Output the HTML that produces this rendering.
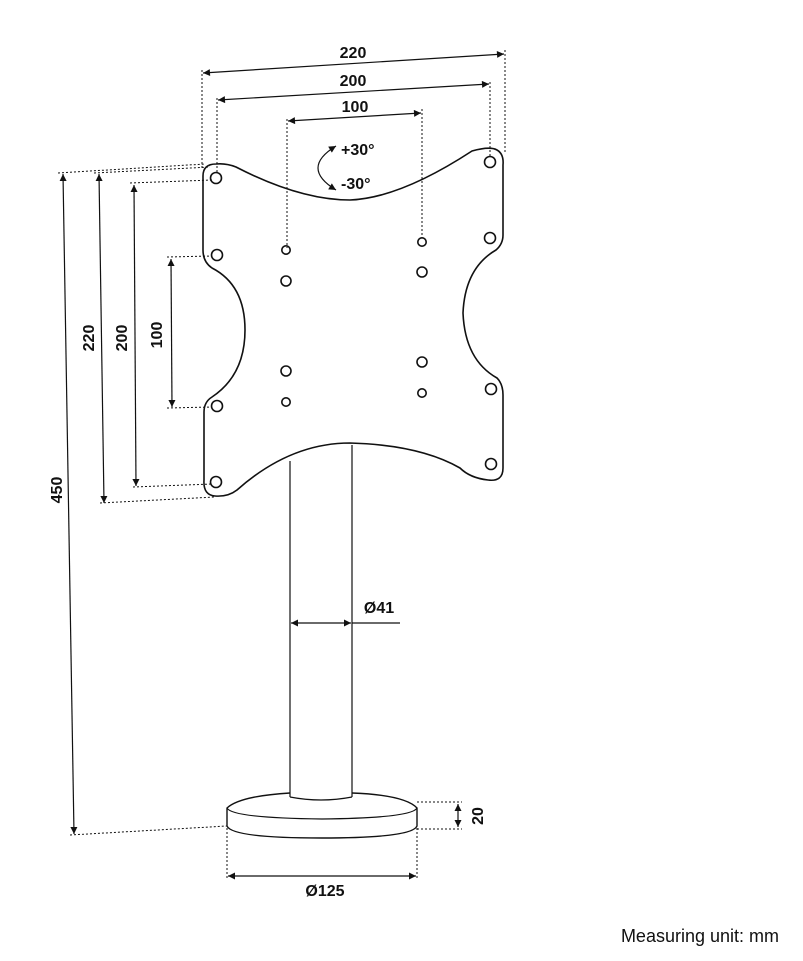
<!DOCTYPE html>
<html><head><meta charset="utf-8"><style>
html,body{margin:0;padding:0;background:#fff;}
svg{display:block;}
text{font-family:"Liberation Sans",sans-serif;fill:#111;}
</style></head><body>
<svg width="803" height="961" viewBox="0 0 803 961" xmlns="http://www.w3.org/2000/svg">
<defs>
<marker id="a" viewBox="0 0 10 10" refX="10" refY="5" markerWidth="9" markerHeight="7" orient="auto-start-reverse" markerUnits="userSpaceOnUse"><path d="M0,0 L10,5 L0,10 z" fill="#111"/></marker>
</defs>
<g stroke="#111" stroke-width="1" stroke-dasharray="2,2" fill="none">
<line x1="202" y1="70" x2="202" y2="168"/>
<line x1="505" y1="50" x2="505" y2="153"/>
<line x1="217" y1="98" x2="217" y2="172"/>
<line x1="490" y1="82" x2="490" y2="156"/>
<line x1="287" y1="119" x2="287" y2="248"/>
<line x1="422" y1="109" x2="422" y2="238"/>
<line x1="58" y1="173" x2="205" y2="164"/>
<line x1="94" y1="173" x2="210" y2="167"/>
<line x1="130" y1="183" x2="212" y2="180"/>
<line x1="167" y1="257" x2="212" y2="256"/>
<line x1="167" y1="408" x2="212" y2="407"/>
<line x1="133" y1="487" x2="212" y2="484"/>
<line x1="100" y1="503" x2="215" y2="497"/>
<line x1="70" y1="835" x2="227" y2="826"/>
<line x1="227" y1="828" x2="227" y2="878"/>
<line x1="417" y1="828" x2="417" y2="878"/>
<line x1="417" y1="802" x2="462" y2="802"/>
<line x1="417" y1="829" x2="462" y2="829"/>
</g>
<g stroke="#111" stroke-width="1.2" fill="none">
<line x1="203" y1="73" x2="504" y2="54" marker-start="url(#a)" marker-end="url(#a)"/>
<line x1="218" y1="100" x2="489" y2="84" marker-start="url(#a)" marker-end="url(#a)"/>
<line x1="288" y1="121" x2="421" y2="113" marker-start="url(#a)" marker-end="url(#a)"/>
<line x1="63" y1="174" x2="74" y2="834" marker-start="url(#a)" marker-end="url(#a)"/>
<line x1="99" y1="174" x2="104" y2="503" marker-start="url(#a)" marker-end="url(#a)"/>
<line x1="134" y1="185" x2="136" y2="486" marker-start="url(#a)" marker-end="url(#a)"/>
<line x1="171" y1="259" x2="172" y2="407" marker-start="url(#a)" marker-end="url(#a)"/>
<path d="M336,146 Q300,168 336,190" marker-start="url(#a)" marker-end="url(#a)"/>
<path stroke-width="1.6" d="M203,176 Q203,164 216,164 Q226,163 236,167 Q300,200 350,200 Q400,198 472,151 Q490,146 497,150 Q504,154 503,165 L503,235 Q503,244 496,250 Q465,268 463,313 Q465,360 497,378 Q503,384 503,395 L503,468 Q503,482 488,480 Q470,478 460,468 Q420,445 350,443 Q290,443 237,490 Q228,497 215,496 Q203,495 204,480 L204,412 Q204,402 212,397 Q245,375 245,330 Q245,285 212,268 Q203,262 203,250 Z"/>
<g stroke-width="1.6">
<circle cx="216" cy="178" r="5.5"/><circle cx="217" cy="255" r="5.5"/><circle cx="217" cy="406" r="5.5"/><circle cx="216" cy="482" r="5.5"/>
<circle cx="490" cy="162" r="5.5"/><circle cx="490" cy="238" r="5.5"/><circle cx="491" cy="389" r="5.5"/><circle cx="491" cy="464" r="5.5"/>
<circle cx="286" cy="250" r="4.2"/><circle cx="286" cy="281" r="5"/><circle cx="286" cy="371" r="5"/><circle cx="286" cy="402" r="4.2"/>
<circle cx="422" cy="242" r="4.2"/><circle cx="422" cy="272" r="5"/><circle cx="422" cy="362" r="5"/><circle cx="422" cy="393" r="4.2"/>
</g>
<line x1="290" y1="461" x2="290" y2="797"/>
<line x1="352" y1="445" x2="352" y2="797"/>
<path d="M290,797 Q321,803 352,797"/>
<path stroke-width="1.4" d="M290,793 Q240,796 227,808 L227,826 Q232,838 322,838 Q412,838 417,826 L417,808 Q405,795 352,793"/>
<path d="M227,808 Q232,818 322,819 Q412,818 417,808"/>
<line x1="291" y1="623" x2="351" y2="623" marker-start="url(#a)" marker-end="url(#a)"/>
<line x1="352" y1="623" x2="400" y2="623"/>
<line x1="458" y1="804" x2="458" y2="827" marker-start="url(#a)" marker-end="url(#a)"/>
<line x1="228" y1="876" x2="416" y2="876" marker-start="url(#a)" marker-end="url(#a)"/>
</g>
<g font-size="16" font-weight="bold" text-anchor="middle">
<text x="353" y="58">220</text>
<text x="353" y="86">200</text>
<text x="355" y="112">100</text>
<text x="341" y="155" text-anchor="start">+30°</text>
<text x="341" y="189" text-anchor="start">-30°</text>
<text x="379" y="613">Ø41</text>
<text x="325" y="896">Ø125</text>
<text transform="translate(62,490) rotate(-90)">450</text>
<text transform="translate(94,338) rotate(-90)">220</text>
<text transform="translate(127,338) rotate(-90)">200</text>
<text transform="translate(162,335) rotate(-90)">100</text>
<text transform="translate(483,816) rotate(-90)">20</text>
</g>
<text x="779" y="942" font-size="18" text-anchor="end">Measuring unit: mm</text>
</svg>
</body></html>
